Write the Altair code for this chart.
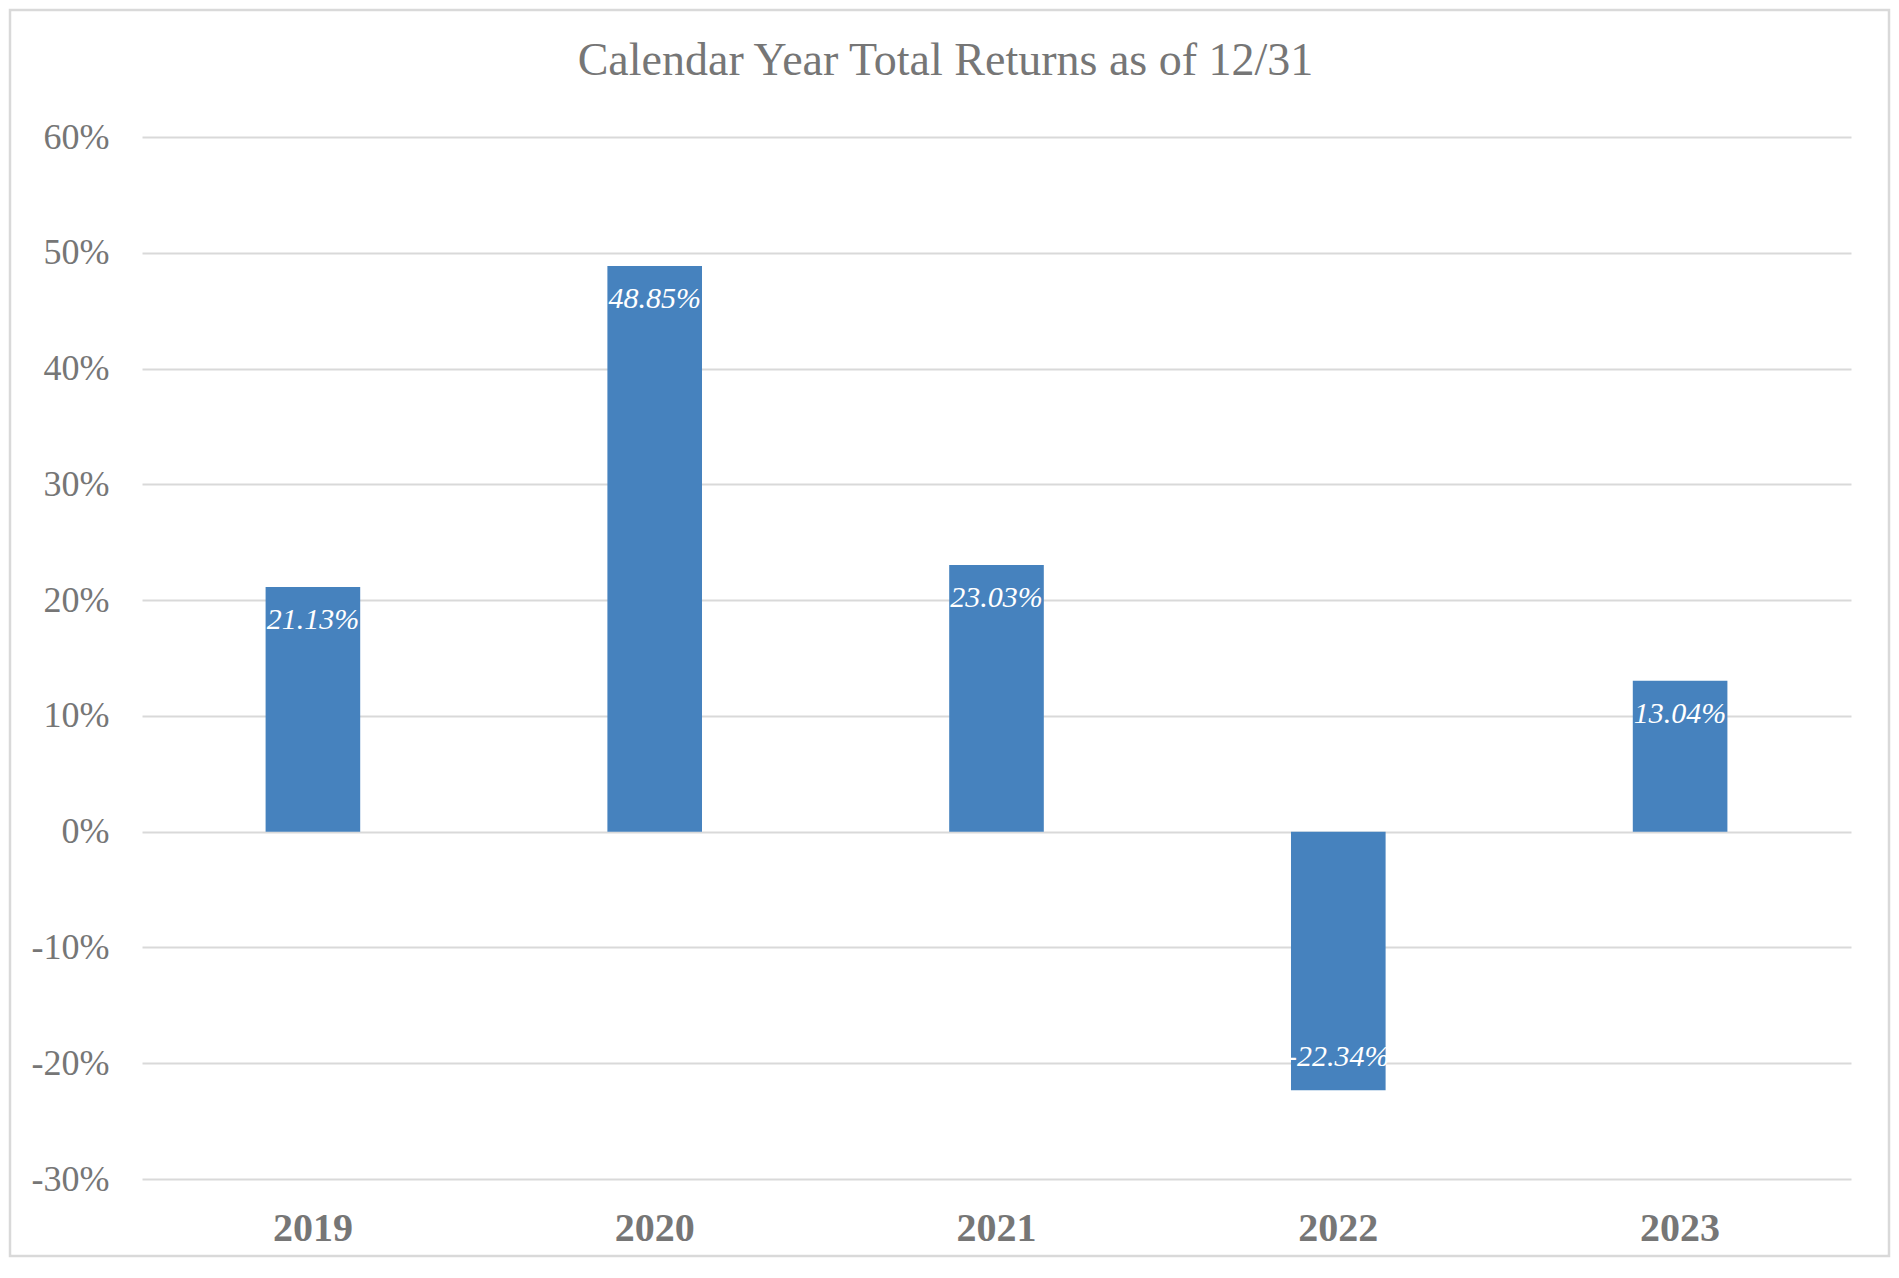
import altair as alt
import pandas as pd

years = ["2019", "2020", "2021", "2022", "2023"]
returns = [21.13, 48.85, 23.03, -22.34, 13.04]
y_ticks = [-30, -20, -10, 0, 10, 20, 30, 40, 50, 60]
title_text = ["Calendar Year Total Returns as of 12/31"]

df = pd.DataFrame({"year": years, "ret": returns})

FONT = "Liberation Serif"
GRAY = "#767676"
GRID = "#d9d9d9"
BAR = "#4682BE"

W, H = 1709, 1042

x = alt.X(
    "year:N", sort=years, title=None,
    scale=alt.Scale(paddingInner=0.7232, paddingOuter=0.3616),
    axis=alt.Axis(labelFont=FONT, labelFontSize=40, labelFontWeight="bold",
                  labelColor=GRAY, labelAngle=0, labelPadding=29,
                  labelBaseline="top", ticks=False, domain=False, grid=False),
)
y = alt.Y(
    "ret:Q", title=None,
    scale=alt.Scale(domain=[-30, 60], nice=False),
    axis=alt.Axis(values=y_ticks, labelExpr="datum.value + '%'",
                  labelFont=FONT, labelFontSize=36, labelColor=GRAY,
                  labelPadding=33, ticks=False, domain=False,
                  gridColor=GRID, gridWidth=2),
)

base = alt.Chart(df).transform_calculate(
    label="(datum.ret < 0 ? '-' : '') + format(abs(datum.ret), '.2f') + '%'"
)

bars = base.mark_bar(color=BAR).encode(x=x, y=y)

txt_style = dict(font=FONT, fontSize=30, fontStyle="italic", color="white",
                 baseline="alphabetic", align="center")

pos_labels = base.transform_filter("datum.ret >= 0").mark_text(dy=42, **txt_style).encode(
    x=alt.X("year:N", sort=years), y=alt.Y("ret:Q"), text="label:N")
neg_labels = base.transform_filter("datum.ret < 0").mark_text(dy=-24, **txt_style).encode(
    x=alt.X("year:N", sort=years), y=alt.Y("ret:Q"), text="label:N")

border = alt.Chart(pd.DataFrame({"a": [0]})).mark_rect(
    filled=False, stroke=GRID, strokeWidth=2.5
).encode(x=alt.value(-132), x2=alt.value(W + 38),
         y=alt.value(-127), y2=alt.value(H + 77))

title = alt.Chart(pd.DataFrame({"t": title_text})).mark_text(
    font=FONT, fontSize=46, color=GRAY, baseline="alphabetic", align="center"
).encode(x=alt.value(803.5), y=alt.value(-62), text="t:N")

chart = alt.layer(border, bars, pos_labels, neg_labels, title).properties(
    width=W, height=H,
    padding={"left": 134, "top": 129, "right": 40, "bottom": 79},
    autosize=alt.AutoSizeParams(type="none"),
    background="white",
).configure_view(stroke=None)

chart.save("out.html", embed_options={"renderer": "svg", "actions": False})
